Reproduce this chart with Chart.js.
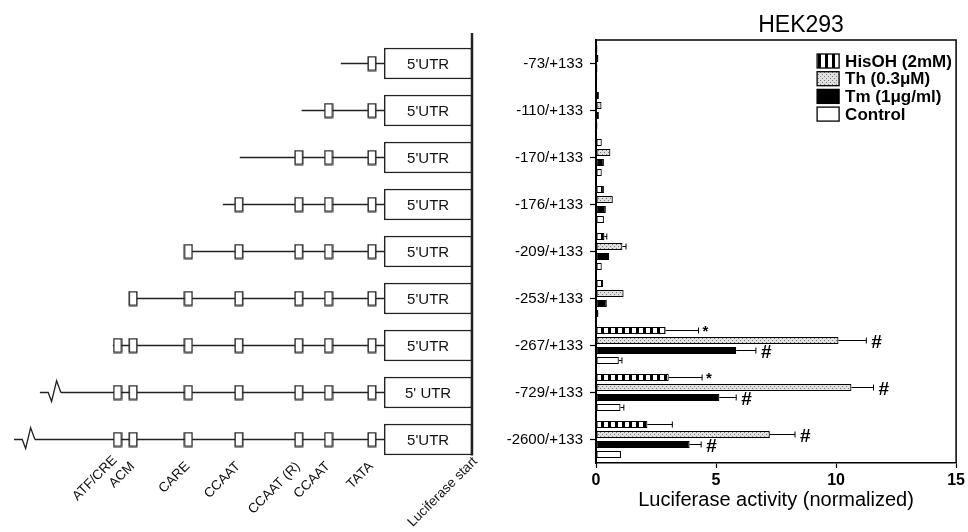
<!DOCTYPE html>
<html>
<head>
<meta charset="utf-8">
<script src="https://cdn.jsdelivr.net/npm/chart.js@4.4.1/dist/chart.umd.min.js"></script>
<style>
  html, body { margin: 0; padding: 0; background: #fff; }
  #wrap { position: relative; width: 968px; height: 532px; }
  #wrap canvas { position: absolute; left: 0; top: 0; }
</style>
</head>
<body>
<div id="wrap">
  <canvas id="bars" width="968" height="532"></canvas>
  <canvas id="map" width="968" height="532"></canvas>
</div>
<script>
// constructs, top to bottom
const constructs = ['-73/+133', '-110/+133', '-170/+133', '-176/+133', '-209/+133', '-253/+133', '-267/+133', '-729/+133', '-2600/+133'];

// luciferase activity (normalized) and SEM
const hisOH      = [0.06, 0.12, 0.24, 0.33, 0.35, 0.30, 2.90, 3.03, 2.14];
const hisOHSem   = [0, 0, 0, 0, 0.10, 0, 1.37, 1.39, 1.04];
const th         = [0.10, 0.23, 0.60, 0.70, 1.10, 1.15, 10.10, 10.64, 7.24];
const thSem      = [0, 0, 0, 0, 0.15, 0, 1.16, 0.92, 1.05];
const tm         = [0.06, 0.12, 0.33, 0.41, 0.55, 0.45, 5.84, 5.14, 3.90];
const tmSem      = [0, 0, 0, 0, 0, 0, 0.82, 0.70, 0.48];
const control    = [0.05, 0.06, 0.24, 0.33, 0.24, 0.10, 0.95, 1.02, 1.04];
const controlSem = [0, 0, 0, 0, 0, 0, 0.13, 0.14, 0];

const hisOHMarks   = ['', '', '', '', '', '', '*', '*', ''];
const thMarks      = ['', '', '', '', '', '', '#', '#', '#'];
const tmMarks      = ['', '', '', '', '', '', '#', '#', '#'];
const controlMarks = ['', '', '', '', '', '', '', '', ''];

const xTicks = [0, 5, 10, 15];

// promoter map (schematic units, luciferase start = 100)
const elementNames = ['ATF/CRE', 'ACM', 'CARE', 'CCAAT', 'CCAAT (R)', 'CCAAT', 'TATA'];
const elementPos   = [24.9, 28.2, 39.9, 50.6, 63.3, 69.6, 78.8];
const elementCount = [1, 2, 3, 4, 5, 6, 7, 7, 7];
const constructStart = [72.2, 63.9, 50.8, 47.2, 39.9, 28.2, 23.9, 12.9, 7.4];
const truncated    = [false, false, false, false, false, false, false, true, true];
const utrSpan      = [81.4, 100];
const utrText      = ["5'UTR", "5'UTR", "5'UTR", "5'UTR", "5'UTR", "5'UTR", "5'UTR", "5' UTR", "5'UTR"];

Chart.defaults.font.family = "'Liberation Sans', Arial, sans-serif";
Chart.defaults.color = '#000';

function makePattern(w, h, paint) {
  const c = document.createElement('canvas');
  c.width = w; c.height = h;
  paint(c.getContext('2d'));
  return c.getContext('2d').createPattern(c, 'repeat');
}

const stripes = makePattern(7, 1, g => {
  g.fillStyle = '#000'; g.fillRect(0, 0, 7, 1);
  g.fillStyle = '#fff'; g.fillRect(2, 0, 4, 1);
});
const stipple = makePattern(4, 4, g => {
  g.fillStyle = '#e0e0e0'; g.fillRect(0, 0, 4, 4);
  g.fillStyle = '#7a7a7a'; g.fillRect(0, 0, 1, 1); g.fillRect(2, 2, 1, 1);
});

const errorBars = {
  id: 'errorBars',
  afterDatasetsDraw(chart) {
    const { ctx, scales: { x } } = chart;
    ctx.save();
    ctx.strokeStyle = '#000';
    ctx.lineWidth = 1;
    chart.data.datasets.forEach((ds, d) => {
      chart.getDatasetMeta(d).data.forEach((bar, i) => {
        const y = bar.y;
        const x1 = x.getPixelForValue(ds.data[i] + ds.sem[i]);
        if (ds.sem[i] > 0) {
          ctx.beginPath();
          ctx.moveTo(x.getPixelForValue(ds.data[i]), y);
          ctx.lineTo(x1, y);
          ctx.moveTo(x1, y - 3);
          ctx.lineTo(x1, y + 3);
          ctx.stroke();
        }
        if (ds.marks[i]) {
          ctx.fillStyle = '#000';
          ctx.textBaseline = 'middle';
          ctx.textAlign = 'left';
          if (ds.marks[i] === '*') {
            ctx.font = "bold 15px 'Liberation Sans', Arial, sans-serif";
            ctx.fillText('*', x1 + 4, y + 1);
          } else {
            ctx.font = "bold 19px 'Liberation Sans', Arial, sans-serif";
            ctx.fillText('#', x1 + 5, y + 2);
          }
        }
      });
    });
    ctx.restore();
  }
};

const frame = {
  id: 'frame',
  afterDraw(chart) {
    const { ctx, chartArea: a } = chart;
    ctx.save();
    ctx.strokeStyle = '#000';
    ctx.lineWidth = 1.5;
    ctx.beginPath();
    ctx.moveTo(a.left, a.top);
    ctx.lineTo(a.right, a.top);
    ctx.lineTo(a.right, a.bottom);
    ctx.stroke();
    // title
    ctx.fillStyle = '#000';
    ctx.font = "23px 'Liberation Sans', Arial, sans-serif";
    ctx.textAlign = 'center';
    ctx.textBaseline = 'alphabetic';
    ctx.fillText('HEK293', (a.left + a.right) / 2 + 25, 32);
    // legend
    ctx.font = "bold 17px 'Liberation Sans', Arial, sans-serif";
    ctx.textAlign = 'left';
    ctx.textBaseline = 'middle';
    chart.data.datasets.forEach((ds, i) => {
      const y = a.top + 21 + i * 17.7;
      const bx = a.right - 139;
      ctx.fillStyle = ds.backgroundColor;
      ctx.fillRect(bx, y - 7, 22, 14);
      ctx.lineWidth = 1.3;
      ctx.strokeRect(bx, y - 7, 22, 14);
      ctx.fillStyle = '#000';
      ctx.fillText(ds.label, a.right - 111, y + 1);
    });
    ctx.restore();
  }
};

new Chart(document.getElementById('bars'), {
  type: 'bar',
  data: {
    labels: constructs,
    datasets: [
      { label: 'HisOH (2mM)', data: hisOH, sem: hisOHSem, marks: hisOHMarks, backgroundColor: stripes },
      { label: 'Th (0.3\u03bcM)', data: th, sem: thSem, marks: thMarks, backgroundColor: stipple },
      { label: 'Tm (1\u03bcg/ml)', data: tm, sem: tmSem, marks: tmMarks, backgroundColor: '#000' },
      { label: 'Control', data: control, sem: controlSem, marks: controlMarks, backgroundColor: '#fff' }
    ]
  },
  options: {
    indexAxis: 'y',
    responsive: false,
    animation: false,
    devicePixelRatio: 1,
    events: [],
    layout: { autoPadding: false, padding: { left: 501, top: 40, right: 10, bottom: 0 } },
    datasets: {
      bar: { categoryPercentage: 0.85, barPercentage: 0.72, borderColor: '#000', borderWidth: 1.2, borderSkipped: false }
    },
    plugins: { legend: { display: false }, tooltip: { enabled: false } },
    scales: {
      x: {
        min: 0, max: 15,
        afterBuildTicks: s => { s.ticks = xTicks.map(v => ({ value: v })); },
        ticks: { font: { size: 16, weight: 'bold' }, color: '#000', padding: 3 },
        grid: { drawOnChartArea: false, tickLength: 5, color: '#000', tickWidth: 1.2 },
        border: { color: '#000', width: 1.5 },
        title: { display: true, text: 'Luciferase activity (normalized)', font: { size: 20 }, color: '#000', padding: { top: 0, bottom: 20 } },
        afterFit: s => { s.height = 69; }
      },
      y: {
        ticks: { font: { size: 15 }, color: '#000', padding: 7 },
        grid: { drawOnChartArea: false, offset: false, tickLength: 6, color: '#000', tickWidth: 1.2 },
        border: { color: '#000', width: 2 },
        afterFit: s => { s.width = 95; }
      }
    }
  },
  plugins: [errorBars, frame]
});

// promoter schematic
const boxImg = document.createElement('canvas');
boxImg.width = 10; boxImg.height = 16;
(g => {
  g.fillStyle = '#fff'; g.fillRect(1, 1, 8, 14);
  g.strokeStyle = '#222'; g.lineWidth = 1.4; g.strokeRect(1.2, 1.2, 7.6, 13.6);
})(boxImg.getContext('2d'));

const mapDecor = {
  id: 'mapDecor',
  afterDraw(chart) {
    const { ctx, scales: { x, y } } = chart;
    ctx.save();
    ctx.strokeStyle = '#222';
    ctx.fillStyle = '#111';
    // break marks on truncated constructs
    ctx.lineWidth = 1.3;
    constructs.forEach((c, i) => {
      if (!truncated[i]) return;
      const e = x.getPixelForValue(constructStart[i]);
      const py = y.getPixelForValue(i);
      ctx.beginPath();
      ctx.moveTo(e - 21, py);
      ctx.lineTo(e - 12.7, py);
      ctx.lineTo(e - 9.3, py + 9);
      ctx.lineTo(e - 4.3, py - 11.7);
      ctx.lineTo(e, py);
      ctx.stroke();
    });
    // luciferase start line
    const lx = x.getPixelForValue(utrSpan[1]);
    ctx.lineWidth = 2.5;
    ctx.beginPath();
    ctx.moveTo(lx, chart.chartArea.top - 7);
    ctx.lineTo(lx, y.getPixelForValue(constructs.length - 1) + 16);
    ctx.stroke();
    // UTR text
    ctx.font = "15px 'Liberation Sans', Arial, sans-serif";
    ctx.textAlign = 'center';
    ctx.textBaseline = 'middle';
    const ux = x.getPixelForValue((utrSpan[0] + utrSpan[1]) / 2);
    constructs.forEach((c, i) => ctx.fillText(utrText[i], ux, y.getPixelForValue(i) + 1));
    // rotated element labels
    ctx.font = "13.5px 'Liberation Sans', Arial, sans-serif";
    ctx.textAlign = 'right';
    ctx.textBaseline = 'alphabetic';
    const labels = elementNames.map((n, k) => [n, elementPos[k]]).concat([['Luciferase start', utrSpan[1]]]);
    labels.forEach(([n, p]) => {
      let dx = 2, ay = 467;
      if (n === 'ATF/CRE') { dx = 0; ay = 461; }
      if (n === 'Luciferase start') { dx = 6; ay = 462; }
      ctx.save();
      ctx.translate(x.getPixelForValue(p) + dx, ay);
      ctx.rotate(-Math.PI / 4);
      ctx.fillText(n, 0, 0);
      ctx.restore();
    });
    ctx.restore();
  }
};

new Chart(document.getElementById('map'), {
  type: 'bar',
  data: {
    labels: constructs,
    datasets: [
      {
        type: 'line',
        data: constructs.flatMap((c, i) => elementPos.slice(elementPos.length - elementCount[i]).map(p => ({ x: p, y: c }))),
        showLine: false, pointStyle: boxImg, pointRadius: 6, order: 0, clip: false
      },
      ...constructs.map((c, i) => ({
        type: 'line',
        data: [{ x: constructStart[i], y: c }, { x: utrSpan[0], y: c }],
        borderColor: '#222', borderWidth: 1.3, pointRadius: 0, order: 1, clip: false
      })),
      {
        type: 'bar',
        data: constructs.map(() => utrSpan),
        backgroundColor: '#fff', borderColor: '#222', borderWidth: 1.5, borderSkipped: false,
        barThickness: 31, order: 2, clip: false
      }
    ]
  },
  options: {
    indexAxis: 'y',
    responsive: false,
    animation: false,
    devicePixelRatio: 1,
    events: [],
    layout: { autoPadding: false, padding: { left: 0, right: 496, top: 40, bottom: 69 } },
    plugins: { legend: { display: false }, tooltip: { enabled: false } },
    scales: {
      x: { type: 'linear', min: 0, max: 100, display: false },
      y: { type: 'category', offset: true, display: false }
    }
  },
  plugins: [mapDecor]
});
</script>
</body>
</html>
